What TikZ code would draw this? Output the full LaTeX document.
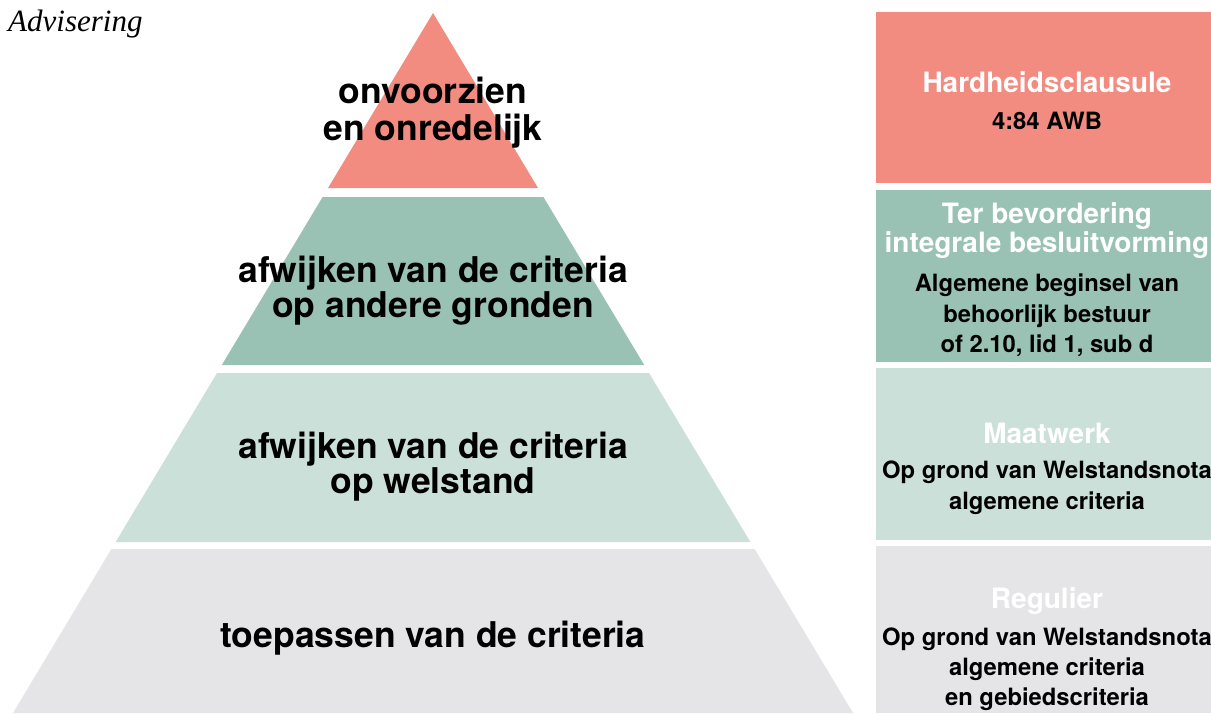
\documentclass[tikz,border=0pt]{standalone}
\usepackage{fontspec}
\newfontfamily\heros{TeX Gyre Heros}
\newfontfamily\titleserif{Liberation Serif}
\definecolor{tierA}{RGB}{242,139,128}
\definecolor{tierB}{RGB}{153,194,181}
\definecolor{tierC}{RGB}{202,224,217}
\definecolor{tierD}{RGB}{229,229,231}
\tikzset{
  pyrtext/.style={font=\heros\bfseries\fontsize{35.5}{37}\selectfont, anchor=base, inner sep=0pt, text=black},
  boxhead/.style={font=\heros\bfseries\fontsize{28}{29}\selectfont, anchor=base, inner sep=0pt, text=white},
  boxbody/.style={font=\heros\bfseries\fontsize{23.8}{30}\selectfont, anchor=base, inner sep=0pt, text=black},
}
\begin{document}
\begin{tikzpicture}[x=1pt,y=-1pt]
\useasboundingbox (0,0) rectangle (1211,713);
% title
\node[anchor=base west, inner sep=0pt, font=\titleserif\itshape\fontsize{31}{33}\selectfont] (title) at (8,31) {Advisering};
% pyramid tiers
\fill[tierA] (433,13) -- (538.0,188) -- (328.0,188) -- cycle;
\fill[tierB] (322.6,197) -- (543.4,197) -- (644.2,365) -- (221.8,365) -- cycle;
\fill[tierC] (217,373) -- (649,373) -- (750.4,542) -- (115.6,542) -- cycle;
\fill[tierD] (111.4,549) -- (754.6,549) -- (853,713) -- (13,713) -- cycle;
% pyramid labels
\node[pyrtext] (t1a) at (433,103) {onvoorzien};
\node[pyrtext] (t1b) at (433,140) {en onredelijk};
\node[pyrtext] (t2a) at (433,282) {afwijken van de criteria};
\node[pyrtext] (t2b) at (433,317) {op andere gronden};
\node[pyrtext] (t3a) at (433,458) {afwijken van de criteria};
\node[pyrtext] (t3b) at (433,493) {op welstand};
\node[pyrtext] (t4a) at (433,647) {toepassen van de criteria};
% right boxes
\fill[tierA] (876,12) rectangle (1211,183);
\fill[tierB] (876,190) rectangle (1211,362);
\fill[tierC] (876,368) rectangle (1211,540);
\fill[tierD] (876,546) rectangle (1211,713);
% box texts
\node[boxhead] (b1h) at (1047,92) {Hardheidsclausule};
\node[boxbody] (b1a) at (1047,129) {4:84 AWB};
\node[boxhead] (b2h) at (1047,223) {Ter bevordering};
\node[boxhead] (b2i) at (1047,252) {integrale besluitvorming};
\node[boxbody] (b2a) at (1047,291) {Algemene beginsel van};
\node[boxbody] (b2b) at (1047,322) {behoorlijk bestuur};
\node[boxbody] (b2c) at (1047,352) {of 2.10, lid 1, sub d};
\node[boxhead] (b3h) at (1047,443) {Maatwerk};
\node[boxbody] (b3a) at (1047,478) {Op grond van Welstandsnota};
\node[boxbody] (b3b) at (1047,509) {algemene criteria};
\node[boxhead] (b4h) at (1047,608) {Regulier};
\node[boxbody] (b4a) at (1047,645) {Op grond van Welstandsnota};
\node[boxbody] (b4b) at (1047,675) {algemene criteria};
\node[boxbody] (b4c) at (1047,705) {en gebiedscriteria};
\end{tikzpicture}
\end{document}
